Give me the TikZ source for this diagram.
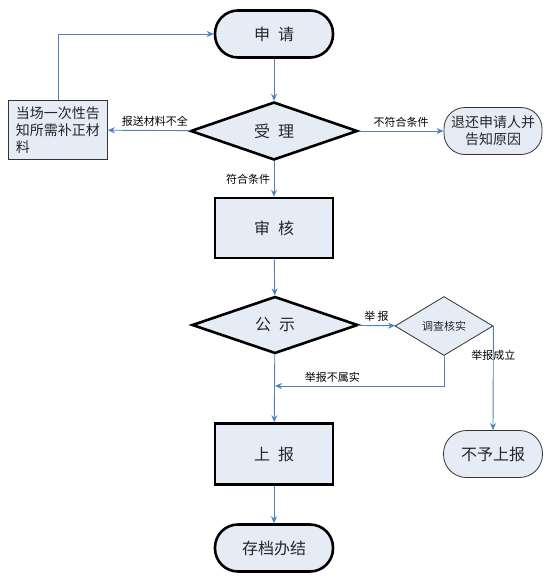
\documentclass[tikz,border=0pt]{standalone}
\usepackage{fontspec}
\setmainfont{Noto Sans CJK SC}
\usetikzlibrary{arrows.meta,shapes.geometric}
\definecolor{boxfill}{RGB}{230,236,246}
\definecolor{linkblue}{RGB}{79,129,189}
\newcommand{\bigtxt}{\fontsize{16}{19}\selectfont}
\newcommand{\smalltxt}{\fontsize{11}{13}\selectfont}
\newcommand{\gap}{\hspace{8pt}}

\begin{document}
\begin{tikzpicture}[x=1pt,y=-1pt,
  thickbox/.style={draw=black,line width=2.6pt,fill=boxfill,minimum width=118pt,font=\bigtxt,text=black!85},
  thinbox/.style={draw=black!80,line width=0.8pt,fill=boxfill,text=black!85},
  link/.style={-{Stealth[length=7pt,width=6pt]},linkblue,line width=0.9pt},
  lbl/.style={font=\smalltxt,text=black}]
  \useasboundingbox (0,0) rectangle (559,584);

  \node[thickbox,rounded corners=23pt,minimum height=47pt] (sq) at (274,34) {申\gap 请};
  \node[thickbox,diamond,minimum width=167pt,minimum height=58pt,inner sep=0pt] (sl) at (274,131) {受\gap 理};
  \node[thinbox,minimum width=99pt,minimum height=59pt,align=left,font=\fontsize{14}{17}\selectfont,inner sep=2pt] (bz) at (58,130) {当场一次性告\\知所需补正材\\料};
  \node[thinbox,rounded corners=21pt,minimum width=98pt,minimum height=47pt,align=center,font=\fontsize{14}{17}\selectfont,inner sep=1pt] (th) at (493,131) {退还申请人并\\告知原因};
  \node[thickbox,minimum height=60pt] (sh) at (274,228) {审\gap 核};
  \node[thickbox,diamond,minimum width=166pt,minimum height=57pt,inner sep=0pt] (gs) at (275,325) {公\gap 示};
  \node[thinbox,diamond,minimum width=98pt,minimum height=59pt,inner sep=0pt,font=\fontsize{11}{13}\selectfont] (dc) at (444,326) {调查核实};
  \node[thickbox,minimum height=61pt] (sb) at (274,454) {上\gap 报};
  \node[thinbox,rounded corners=23pt,minimum width=99pt,minimum height=47pt,font=\bigtxt] (by) at (493,454) {不予上报};
  \node[thickbox,rounded corners=23pt,minimum height=47pt] (cd) at (274,548) {存档办结};
  \coordinate (hx) at (275,386);

  \path[link]
  (sq) edge (sl)
  (sl) edge node[lbl,above,pos=0.43] {报送材料不全} (bz)
  (sl) edge node[lbl,above] {不符合条件} (th)
  (sl) edge node[lbl,left] {符合条件} (sh)
  (sh) edge (gs)
  (gs) edge node[lbl,above] {举\ 报} (dc)
  (gs) edge (sb)
  (sb) edge (cd);
  \draw[link] (bz.north) |- (sq.west);
  \draw[link] (dc.south) |- node[lbl,above,pos=0.83] {举报不属实} (hx);
  \draw[link] (dc.east) -- node[lbl,pos=0.28] {举报成立} (by.north);
\end{tikzpicture}
\end{document}
